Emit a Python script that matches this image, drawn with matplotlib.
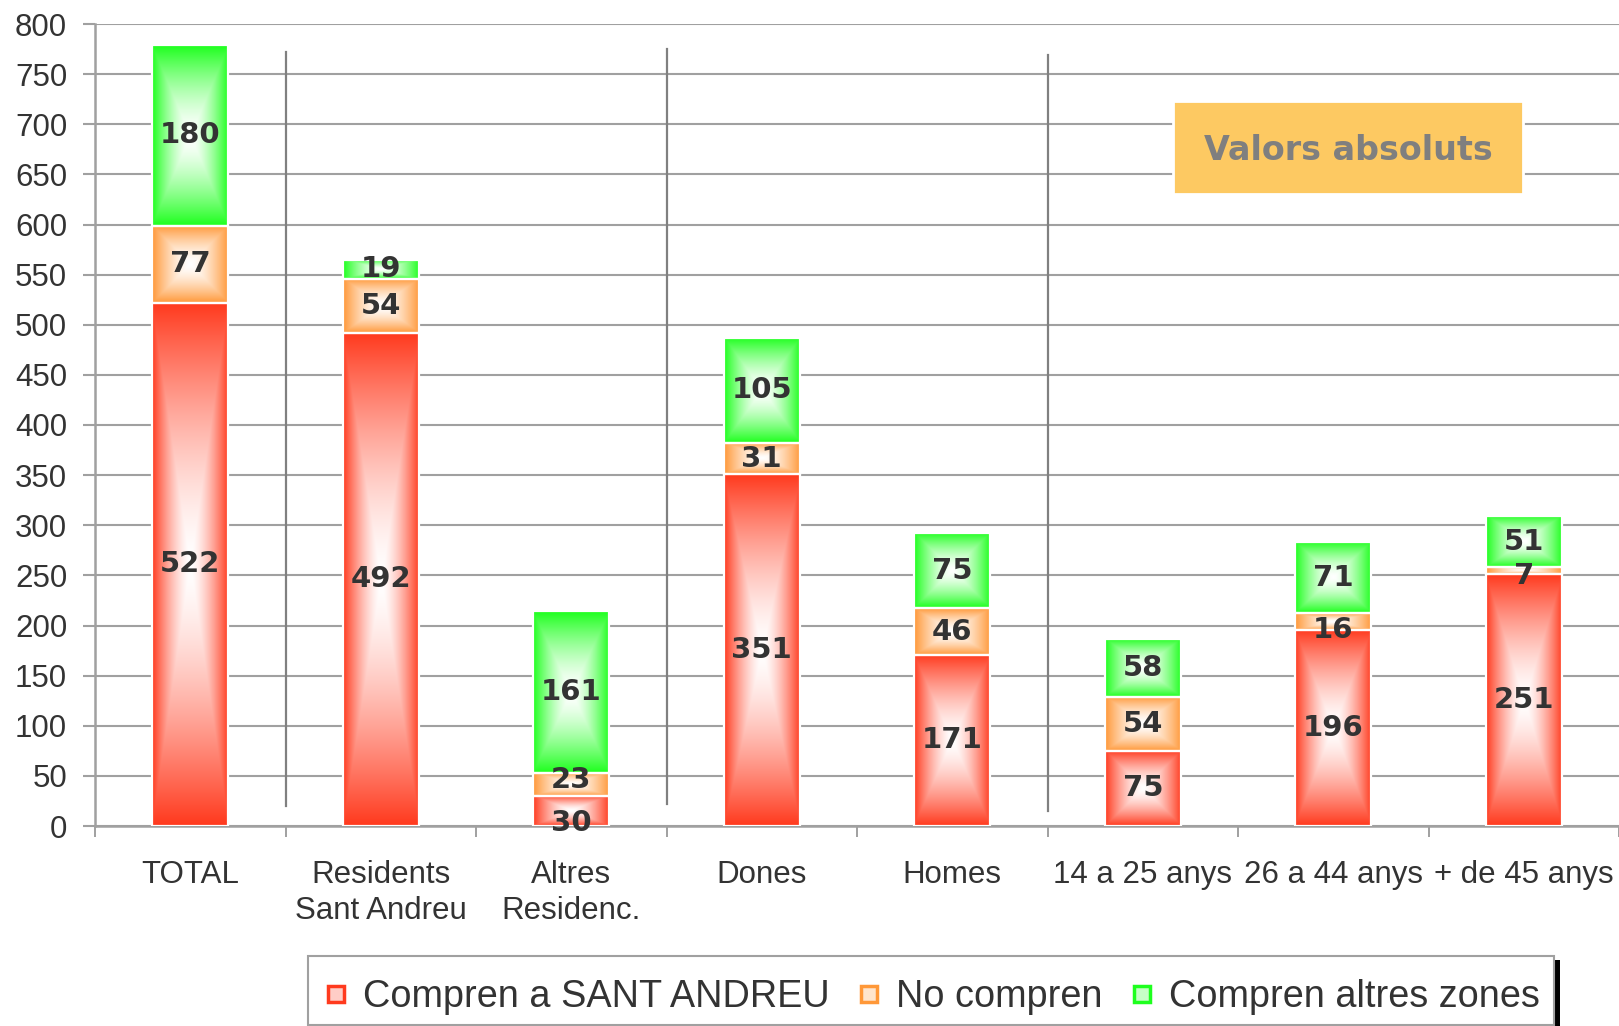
import matplotlib.pyplot as plt
import matplotlib.patches as mpatches
from matplotlib.lines import Line2D
import matplotlib.colors as mcolors
import numpy as np

categories = ["TOTAL", "Residents\nSant Andreu", "Altres\nResidenc.", "Dones", "Homes",
              "14 a 25 anys", "26 a 44 anys", "+ de 45 anys"]
series_names = ["Compren a SANT ANDREU", "No compren", "Compren altres zones"]
compren_sa = [522, 492, 30, 351, 171, 75, 196, 251]
no_compren = [77, 54, 23, 31, 46, 54, 16, 7]
compren_altres = [180, 19, 161, 105, 75, 58, 71, 51]

series = [compren_sa, no_compren, compren_altres]
colors = ["#ff3a1e", "#ff9838", "#1eff1e"]

# small nudges so labels sit where the original put them
label_shift = {(0, 2): -12, (1, 6): -8, (1, 7): -5, (1, 2): 4}

W, H = 1619, 1026
fig = plt.figure(figsize=(W / 100, H / 100), dpi=100)
ax = fig.add_axes([95 / W, 200 / H, 1 - 95 / W, 802 / H])

def gradient_img(color, n=160):
    u = np.linspace(-1, 1, n)
    uu, vv = np.meshgrid(u, u)
    t = np.maximum(np.abs(uu), np.abs(vv)) ** 1.5
    c = np.array(mcolors.to_rgb(color))
    return (1 - t[..., None]) + t[..., None] * c

bw = 0.40
x = np.arange(len(categories))
bottom = np.zeros(len(categories))
for si, vals in enumerate(series):
    img = gradient_img(colors[si])
    for i, v in enumerate(vals):
        ax.imshow(img, extent=[x[i] - bw / 2, x[i] + bw / 2, bottom[i], bottom[i] + v],
                  aspect="auto", interpolation="bilinear", zorder=2)
    ax.bar(x, vals, bw, bottom=bottom, facecolor="none", edgecolor="white",
           linewidth=1.6, zorder=3)
    for i, v in enumerate(vals):
        yy = bottom[i] + v / 2 + label_shift.get((si, i), 0)
        ax.text(x[i], yy, str(v), ha="center", va="center", fontsize=21,
                fontweight="bold", color="#333333", family="DejaVu Sans", zorder=5)
    bottom += np.array(vals)

# group separators
for xs, y0, y1 in [(0.5, 20, 772), (2.5, 22, 775), (4.5, 15, 769)]:
    ax.plot([xs, xs], [y0, y1], color="#808080", lw=1.6, zorder=1)

ax.set_xlim(-0.5, len(categories) - 0.5)
ax.set_ylim(0, 800)
ax.set_yticks(np.arange(0, 801, 50))
ax.set_xticks(x)
ax.set_xticklabels(categories, fontsize=22.5, family="Liberation Sans", color="#333333",
                   linespacing=1.25)
ax.set_xticks(np.arange(-0.5, len(categories), 1), minor=True)
ax.tick_params(axis="x", which="major", length=0, pad=24.5)
ax.tick_params(axis="x", which="minor", length=8, width=1.4, color="#a0a0a0")
ax.tick_params(axis="y", length=9, width=1.5, color="#a0a0a0", pad=11,
               labelsize=22.5, labelcolor="#333333")
for lab in ax.get_yticklabels():
    lab.set_family("Liberation Sans")
ax.grid(axis="y", color="#a0a0a0", lw=1.5, zorder=0)
ax.set_axisbelow(True)
for s in ["top", "right"]:
    ax.spines[s].set_visible(False)
for s in ["left", "bottom"]:
    ax.spines[s].set_color("#a0a0a0")
    ax.spines[s].set_linewidth(1.8)

# annotation box
box = mpatches.Rectangle((1173 / W, 1 - 194 / H), 350 / W, 93 / H, transform=fig.transFigure,
                         facecolor="#fdc962", edgecolor="white", lw=2, zorder=3)
fig.patches.append(box)
fig.text((1173 + 175) / W, 1 - 151 / H, "Valors absoluts", ha="center", va="center",
         fontsize=24, fontweight="bold", color="#7f7f7f", family="DejaVu Sans", zorder=4)

# legend frame + shadow drawn by hand
fig.patches.append(mpatches.Rectangle((1554 / W, 0), 6 / W, 66 / H, transform=fig.transFigure,
                                      facecolor="black", edgecolor="none", zorder=0))
fig.patches.append(mpatches.Rectangle((308 / W, 1 / H), 1246 / W, 69 / H, transform=fig.transFigure,
                                      facecolor="white", edgecolor="#a0a0a0", lw=1.5, zorder=1))

handles = [Line2D([], [], linestyle="none", marker="s", markersize=12,
                  markerfacecolor=mcolors.to_rgb(c) + (0.25,), markeredgecolor=c,
                  markeredgewidth=2.5) for c in colors]
leg = fig.legend(handles, series_names, loc="center left", bbox_to_anchor=(321 / W, 1 - 997 / H),
                 ncol=3, frameon=False,
                 prop={"family": "Liberation Sans", "size": 27.3},
                 handlelength=0.8, handletextpad=0.3, columnspacing=0.65,
                 borderpad=0, borderaxespad=0)
leg.set_zorder(5)
for t in leg.get_texts():
    t.set_color("#333333")

fig.savefig("out.png", dpi=100)
